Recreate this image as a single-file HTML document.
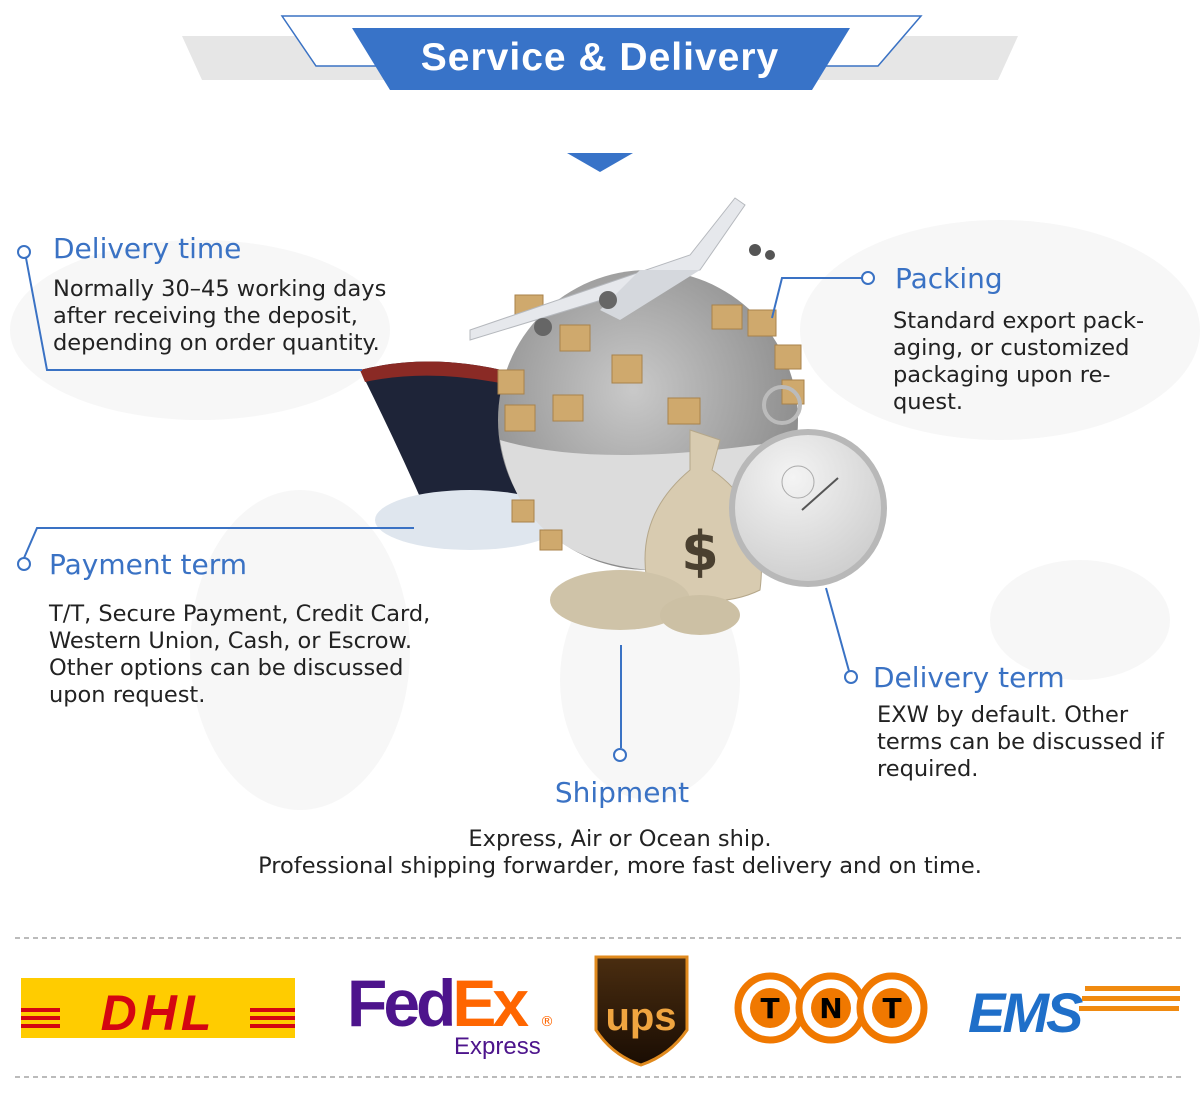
<!DOCTYPE html>
<html><head><meta charset="utf-8"><style>
html,body{margin:0;padding:0;background:#fff;}
svg{display:block;}
text{font-family:"DejaVu Sans","Liberation Sans",sans-serif;}
.h{fill:#3a72c4;font-size:28px;}
.b{fill:#222;font-size:22.5px;}
</style></head><body>
<svg width="1200" height="1105" viewBox="0 0 1200 1105" xmlns="http://www.w3.org/2000/svg">
<defs>
<radialGradient id="gl" cx="0.45" cy="0.4" r="0.6"><stop offset="0" stop-color="#c9c9c9"/><stop offset="1" stop-color="#8a8a8a"/></radialGradient>
<radialGradient id="gl2" cx="0.4" cy="0.3" r="0.7"><stop offset="0" stop-color="#f4f4f4"/><stop offset="1" stop-color="#cfcfcf"/></radialGradient>
<linearGradient id="upsg" x1="0" y1="0" x2="0" y2="1"><stop offset="0" stop-color="#4a2d10"/><stop offset="1" stop-color="#1a0d03"/></linearGradient>
</defs>
<g fill="#f7f7f7">
<ellipse cx="200" cy="330" rx="190" ry="90"/>
<ellipse cx="300" cy="650" rx="110" ry="160"/>
<ellipse cx="1000" cy="330" rx="200" ry="110"/>
<ellipse cx="1080" cy="620" rx="90" ry="60"/>
<ellipse cx="650" cy="680" rx="90" ry="120"/>
</g>
<polygon points="182,36 1018,36 998,80 202,80" fill="#e6e6e6"/>
<polygon points="282,16 921,16 878,66 316,66" fill="#fff" stroke="#3a72c4" stroke-width="1.5"/>
<polygon points="352,28 850,28 812,90 390,90" fill="#3873c8"/>
<text x="600" y="70" text-anchor="middle" fill="#fff" font-size="39" font-weight="bold" style="font-family:'Liberation Sans',sans-serif" letter-spacing="1">Service &amp; Delivery</text>
<polygon points="567,153 633,153 600,172" fill="#3873c8"/>
<path d="M360,370 Q430,352 510,372 L520,540 Q470,540 430,520 Q400,450 360,370Z" fill="#1e2438"/>
<path d="M360,370 Q430,352 510,372 L510,385 Q430,368 365,382Z" fill="#8a2a25"/>
<ellipse cx="470" cy="520" rx="95" ry="30" fill="#dfe6ee"/>
<circle cx="648" cy="420" r="150" fill="url(#gl)"/>
<path d="M500,440 Q600,470 790,440 Q780,540 650,570 Q520,560 500,440Z" fill="#dcdcdc"/>
<g fill="#cfa96d" stroke="#a8824a" stroke-width="1">
<rect x="515" y="295" width="28" height="24"/><rect x="560" y="325" width="30" height="26"/><rect x="612" y="355" width="30" height="28"/>
<rect x="498" y="370" width="26" height="24"/><rect x="505" y="405" width="30" height="26"/><rect x="553" y="395" width="30" height="26"/>
<rect x="668" y="398" width="32" height="26"/><rect x="712" y="305" width="30" height="24"/><rect x="748" y="310" width="28" height="26"/>
<rect x="775" y="345" width="26" height="24"/><rect x="782" y="380" width="22" height="24"/><rect x="512" y="500" width="22" height="22"/><rect x="540" y="530" width="22" height="20"/>
</g>
<path d="M470,340 L700,270 L745,205 L735,198 L690,255 L470,330Z" fill="#e6e8ec" stroke="#b5b8bd"/>
<path d="M600,310 L640,270 L700,270 L620,320Z" fill="#d5d8dd"/>
<circle cx="543" cy="327" r="9" fill="#666"/><circle cx="608" cy="300" r="9" fill="#666"/>
<circle cx="755" cy="250" r="6" fill="#555"/><circle cx="770" cy="255" r="5" fill="#555"/>
<path d="M690,430 L720,440 L712,470 Q770,510 760,590 Q720,610 650,595 Q630,520 690,470Z" fill="#d8cbb0" stroke="#b5a78a"/>
<text x="700" y="570" text-anchor="middle" font-size="54" font-weight="bold" fill="#4a4030">$</text>
<ellipse cx="620" cy="600" rx="70" ry="30" fill="#cfc3a8"/>
<ellipse cx="700" cy="615" rx="40" ry="20" fill="#ccc0a4"/>
<circle cx="782" cy="405" r="18" fill="none" stroke="#bbb" stroke-width="4"/>
<circle cx="808" cy="508" r="76" fill="url(#gl2)" stroke="#b8b8b8" stroke-width="6"/>
<circle cx="798" cy="482" r="16" fill="none" stroke="#aaa"/>
<line x1="802" y1="510" x2="838" y2="478" stroke="#555" stroke-width="2"/>
<g stroke="#3a72c4" stroke-width="2" fill="#fff">
<polyline points="26,258 47,370 362,370" fill="none"/>
<circle cx="24" cy="252" r="6"/>
<polyline points="862,278 782,278 772,318" fill="none"/>
<circle cx="868" cy="278" r="6"/>
<polyline points="24,558 37,528 414,528" fill="none"/>
<circle cx="24" cy="564" r="6"/>
<line x1="849" y1="671" x2="826" y2="588"/>
<circle cx="851" cy="677" r="6"/>
<line x1="621" y1="645" x2="621" y2="748"/>
<circle cx="620" cy="755" r="6"/>
</g>
<text class="h" x="53" y="258">Delivery time</text>
<text class="b" x="53" y="296">Normally 30–45 working days</text>
<text class="b" x="53" y="323">after receiving the deposit,</text>
<text class="b" x="53" y="350">depending on order quantity.</text>
<text class="h" x="895" y="288">Packing</text>
<text class="b" x="893" y="328">Standard export pack-</text>
<text class="b" x="893" y="355">aging, or customized</text>
<text class="b" x="893" y="382">packaging upon re-</text>
<text class="b" x="893" y="409">quest.</text>
<text class="h" x="49" y="574">Payment term</text>
<text class="b" x="49" y="621">T/T, Secure Payment, Credit Card,</text>
<text class="b" x="49" y="648">Western Union, Cash, or Escrow.</text>
<text class="b" x="49" y="675">Other options can be discussed</text>
<text class="b" x="49" y="702">upon request.</text>
<text class="h" x="873" y="687">Delivery term</text>
<text class="b" x="877" y="722">EXW by default. Other</text>
<text class="b" x="877" y="749">terms can be discussed if</text>
<text class="b" x="877" y="776">required.</text>
<text class="h" x="622" y="802" text-anchor="middle">Shipment</text>
<text class="b" x="620" y="846" text-anchor="middle">Express, Air or Ocean ship.</text>
<text class="b" x="620" y="873" text-anchor="middle">Professional shipping forwarder, more fast delivery and on time.</text>
<line x1="15" y1="938" x2="1185" y2="938" stroke="#bbb" stroke-width="2" stroke-dasharray="5,4"/>
<line x1="15" y1="1077" x2="1185" y2="1077" stroke="#bbb" stroke-width="2" stroke-dasharray="5,4"/>
<rect x="21" y="978" width="274" height="60" fill="#ffcc00"/>
<g fill="#d40511"><rect x="21" y="1008" width="274" height="4"/><rect x="21" y="1016" width="274" height="4"/><rect x="21" y="1024" width="274" height="4"/></g>
<rect x="60" y="1003" width="190" height="28" fill="#ffcc00"/>
<text x="158" y="1030" text-anchor="middle" font-size="50" font-weight="bold" font-style="italic" fill="#d40511" letter-spacing="4" style="font-family:'Liberation Sans',sans-serif">DHL</text>
<text x="347" y="1026" font-size="66" font-weight="bold" fill="#4d148c" letter-spacing="-4" style="font-family:'Liberation Sans',sans-serif">Fed<tspan fill="#ff6600">Ex</tspan></text>
<text x="540" y="1026" font-size="14" fill="#ff6600">®</text>
<text x="454" y="1054" font-size="24" fill="#4d148c" style="font-family:'Liberation Sans',sans-serif">Express</text>
<path d="M596,957 L687,957 L687,1030 Q670,1055 641,1065 Q612,1055 596,1030Z" fill="url(#upsg)" stroke="#e08a1e" stroke-width="3"/>
<text x="641" y="1030" text-anchor="middle" font-size="40" font-weight="bold" fill="#f0a540" style="font-family:'Liberation Sans',sans-serif">ups</text>
<g fill="#fff" stroke="#f07800" stroke-width="7">
<circle cx="770" cy="1008" r="32"/><circle cx="831" cy="1008" r="32"/><circle cx="892" cy="1008" r="32"/>
</g>
<g fill="#f07800"><circle cx="770" cy="1008" r="20"/><circle cx="831" cy="1008" r="20"/><circle cx="892" cy="1008" r="20"/></g>
<g font-size="28" font-weight="bold" fill="#000" text-anchor="middle"><text x="770" y="1018">T</text><text x="831" y="1018">N</text><text x="892" y="1018">T</text></g>
<text x="968" y="1032" font-size="56" font-weight="bold" font-style="italic" fill="#1f6fc9" letter-spacing="-3" style="font-family:'Liberation Sans',sans-serif">EMS</text>
<g fill="#f08a10"><rect x="1085" y="986" width="95" height="5"/><rect x="1082" y="996" width="98" height="5"/><rect x="1079" y="1006" width="100" height="5"/></g>
</svg>
</body></html>
